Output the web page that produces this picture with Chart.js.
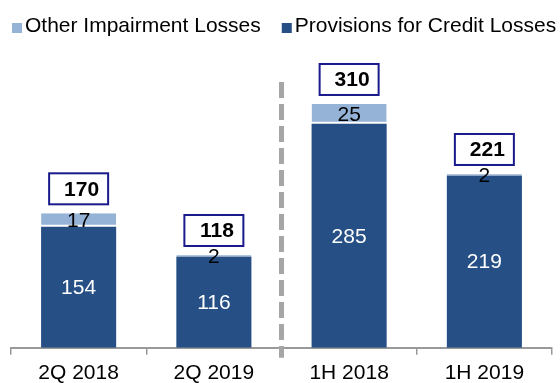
<!DOCTYPE html>
<html>
<head>
<meta charset="utf-8">
<script src="https://cdn.jsdelivr.net/npm/chart.js@4/dist/chart.umd.min.js"></script>
<style>
  html, body { margin: 0; padding: 0; background: #ffffff; }
  #wrap { width: 560px; height: 383px; }
</style>
</head>
<body>
<div id="wrap"><canvas id="chart" width="560" height="383"></canvas></div>
<script>
// Impairment losses by period
const categories = ['2Q 2018', '2Q 2019', '1H 2018', '1H 2019'];
const provisionsForCreditLosses = [154, 116, 285, 219];
const otherImpairmentLosses = [17, 2, 25, 2];
const totalLosses = [170, 118, 310, 221];

const DARK_BLUE = '#254f85';
const LIGHT_BLUE = '#95b3d7';
const FONT = 'Arial, "Liberation Sans", sans-serif';

// Single-row legend along the top edge, listed top series first
const topLegend = {
  id: 'topLegend',
  afterDraw(chart) {
    const ctx = chart.ctx;
    ctx.save();
    ctx.font = '21px ' + FONT;
    ctx.textAlign = 'left';
    ctx.textBaseline = 'middle';
    let x = 12;
    const items = chart.data.datasets.slice().reverse();
    items.forEach((ds) => {
      ctx.fillStyle = ds.backgroundColor;
      ctx.fillRect(x, 23, 10, 10);
      ctx.fillStyle = '#000000';
      ctx.fillText(ds.label, x + 13, 26);
      x += 13 + ctx.measureText(ds.label).width + 21;
    });
    ctx.restore();
  }
};

// Value labels inside each segment and boxed totals above each bar
const segmentLabels = {
  id: 'segmentLabels',
  afterDatasetsDraw(chart) {
    const ctx = chart.ctx;
    ctx.save();
    ctx.textAlign = 'center';
    ctx.textBaseline = 'middle';
    chart.data.datasets.forEach((ds, di) => {
      const meta = chart.getDatasetMeta(di);
      meta.data.forEach((bar, i) => {
        const yMid = (bar.y + bar.base) / 2;
        ctx.font = '21px ' + FONT;
        ctx.fillStyle = ds.labelColor;
        ctx.fillText(String(ds.data[i]), bar.x, yMid + 1);
      });
    });

    // boxed totals
    const topMeta = chart.getDatasetMeta(chart.data.datasets.length - 1);
    topMeta.data.forEach((bar, i) => {
      const boxW = 59, boxH = 31;
      const bottom = bar.y - 9;
      const left = bar.x - boxW / 2;
      ctx.fillStyle = '#ffffff';
      ctx.fillRect(left, bottom - boxH, boxW, boxH);
      ctx.lineWidth = 2;
      ctx.strokeStyle = '#1a1a8c';
      ctx.strokeRect(left, bottom - boxH, boxW, boxH);
      ctx.fillStyle = '#000000';
      ctx.font = 'bold 21px ' + FONT;
      ctx.fillText(String(totalLosses[i]), bar.x + 3, bottom - boxH / 2 + 1);
    });
    ctx.restore();
  }
};

// Dashed separator between the quarterly and half-year groups
const periodDivider = {
  id: 'periodDivider',
  afterDraw(chart) {
    const x = chart.scales.x.getPixelForValue(1.5);
    const y = chart.scales.y;
    const ctx = chart.ctx;
    ctx.save();
    ctx.strokeStyle = '#a6a6a6';
    ctx.lineWidth = 5;
    ctx.setLineDash([16, 6]);
    ctx.beginPath();
    ctx.moveTo(x, y.getPixelForValue(338));
    ctx.lineTo(x, y.bottom + 10);
    ctx.stroke();
    ctx.restore();
  }
};

new Chart(document.getElementById('chart'), {
  type: 'bar',
  data: {
    labels: categories,
    datasets: [
      {
        label: 'Provisions for Credit Losses',
        data: provisionsForCreditLosses,
        backgroundColor: DARK_BLUE,
        borderWidth: 0,
        labelColor: '#ffffff'
      },
      {
        label: 'Other Impairment Losses',
        data: otherImpairmentLosses,
        backgroundColor: LIGHT_BLUE,
        borderColor: '#ffffff',
        borderWidth: { top: 0, left: 0, right: 0, bottom: 2 },
        borderSkipped: false,
        labelColor: '#000000'
      }
    ]
  },
  options: {
    responsive: false,
    animation: false,
    devicePixelRatio: 1,
    layout: { padding: { left: 11, right: 8, top: 45, bottom: -9 } },
    datasets: {
      bar: { barPercentage: 0.555, categoryPercentage: 1.0 }
    },
    plugins: {
      legend: { display: false },
      tooltip: { enabled: false }
    },
    scales: {
      x: {
        stacked: true,
        offset: true,
        grid: {
          display: true,
          offset: true,
          drawOnChartArea: false,
          drawTicks: true,
          tickLength: 7,
          color: '#999999',
          lineWidth: 1.5
        },
        border: { display: true, color: '#999999', width: 2 },
        ticks: {
          color: '#000000',
          padding: 6,
          font: { family: FONT, size: 21 }
        }
      },
      y: {
        stacked: true,
        display: false,
        min: 0,
        max: 385
      }
    }
  },
  plugins: [segmentLabels, periodDivider, topLegend]
});
</script>
</body>
</html>
